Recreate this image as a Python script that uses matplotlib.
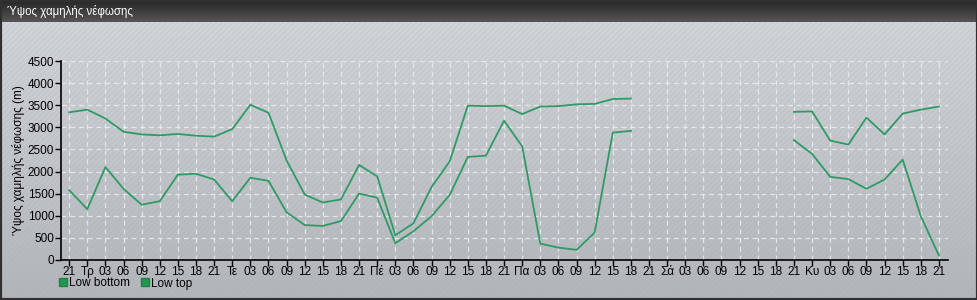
import numpy as np
import matplotlib
matplotlib.use("Agg")
import matplotlib.pyplot as plt
from matplotlib.patches import Rectangle
from matplotlib.lines import Line2D
from matplotlib.colors import LinearSegmentedColormap

plt.rcParams['font.family'] = ['Liberation Sans', 'DejaVu Sans']

nan = np.nan
tick_labels = ["21", "Τρ", "03", "06", "09", "12", "15", "18",
               "21", "Τε", "03", "06", "09", "12", "15", "18",
               "21", "Πέ", "03", "06", "09", "12", "15", "18",
               "21", "Πα", "03", "06", "09", "12", "15", "18",
               "21", "Σά", "03", "06", "09", "12", "15", "18",
               "21", "Κυ", "03", "06", "09", "12", "15", "18", "21"]

low_top = [3340, 3400, 3200, 2900, 2840, 2820, 2850, 2810, 2790, 2960,
           3510, 3330, 2250, 1480, 1300, 1370, 2150, 1890, 560, 830,
           1650, 2230, 3490, 3480, 3490, 3300, 3470, 3480, 3520, 3530,
           3640, 3650, nan, nan, nan, nan, nan, nan, nan, nan,
           3350, 3360, 2700, 2610, 3220, 2840, 3310, 3400, 3470]

low_bottom = [1580, 1150, 2100, 1610, 1250, 1330, 1930, 1950, 1820, 1330,
              1860, 1790, 1080, 790, 770, 880, 1500, 1410, 380, 650,
              990, 1470, 2330, 2360, 3150, 2570, 370, 280, 230, 620,
              2880, 2920, nan, nan, nan, nan, nan, nan, nan, nan,
              2710, 2400, 1880, 1830, 1610, 1820, 2270, 990, 100]

series_names = ["Low bottom", "Low top"]
line_color = "#2f9a66"
legend_color = "#1e9a4e"

W, H = 978, 300
fig = plt.figure(figsize=(W / 100, H / 100), dpi=100)
fig.patch.set_facecolor("#c4c8cc")

# background gradient
bg = fig.add_axes([0, 0, 1, 1], zorder=-10)
bg.set_axis_off()
grad = np.linspace(0, 1, 256).reshape(-1, 1)
cmap_bg = LinearSegmentedColormap.from_list("bg", ["#d3d7db", "#b2b6ba"])
bg.imshow(grad, aspect="auto", cmap=cmap_bg, extent=[0, 1, 0, 1], origin="upper")
plt.rcParams['hatch.linewidth'] = 0.5
bg.add_patch(Rectangle((0, 0), 1, 1, facecolor="none", edgecolor="#a4aab0",
                       hatch="//////", linewidth=0, alpha=0.3))
# title bar
cmap_tb = LinearSegmentedColormap.from_list("tb", ["#262626", "#555555"])
bg.imshow(np.linspace(0, 1, 64).reshape(-1, 1), aspect="auto", cmap=cmap_tb,
          extent=[0, 1, 1 - 22 / H, 1], origin="upper", zorder=2)
# border
bg.add_patch(Rectangle((0, 0), 1, 1, facecolor="none", edgecolor="#303030",
                       linewidth=3, zorder=3))
bg.set_xlim(0, 1)
bg.set_ylim(0, 1)

fig.text(7 / W, 1 - 12 / H, "Ύψος χαμηλής νέφωσης", color="white",
         fontsize=8.3, va="center", ha="left")

ax = fig.add_axes([61 / W, 40 / H, (948 - 61) / W, (260 - 61) / H])
ax.set_facecolor("none")
x = np.arange(len(tick_labels))
ax.plot(x, low_bottom, color=line_color, linewidth=1.3)
ax.plot(x, low_top, color=line_color, linewidth=1.3)
ax.set_xlim(-0.45, len(tick_labels) - 0.5)
ax.set_ylim(0, 4500)
ax.set_yticks(np.arange(0, 4501, 500))
ax.set_xticks(x)
ax.set_xticklabels(tick_labels)
ax.tick_params(axis="both", labelsize=8.5, colors="black", length=4, width=1,
               direction="out", pad=1)
ax.tick_params(axis="x", pad=0.5)
for s in ["top", "right"]:
    ax.spines[s].set_visible(False)
for s in ["left", "bottom"]:
    ax.spines[s].set_color("black")
    ax.spines[s].set_linewidth(1.2)
ax.grid(True, color="#eef0f2", linestyle=(0, (4, 3)), linewidth=0.9, alpha=0.8)
ax.set_axisbelow(True)
ax.set_ylabel("Ύψος χαμηλής νέφωσης (m)", fontsize=8.5, labelpad=2)

handles = [Line2D([], [], marker="s", linestyle="none", markersize=5.5,
                  markerfacecolor=legend_color, markeredgecolor="#2a7a4a")
           for _ in series_names]
fig.legend(handles, series_names, loc="upper left",
           bbox_to_anchor=(57 / W, 1 - 277.5 / H), ncol=2, frameon=False,
           fontsize=8.5, handletextpad=0.05, columnspacing=0.7,
           handlelength=1.0, borderaxespad=0, borderpad=0)

fig.savefig("out.png", dpi=100, facecolor=fig.get_facecolor())
